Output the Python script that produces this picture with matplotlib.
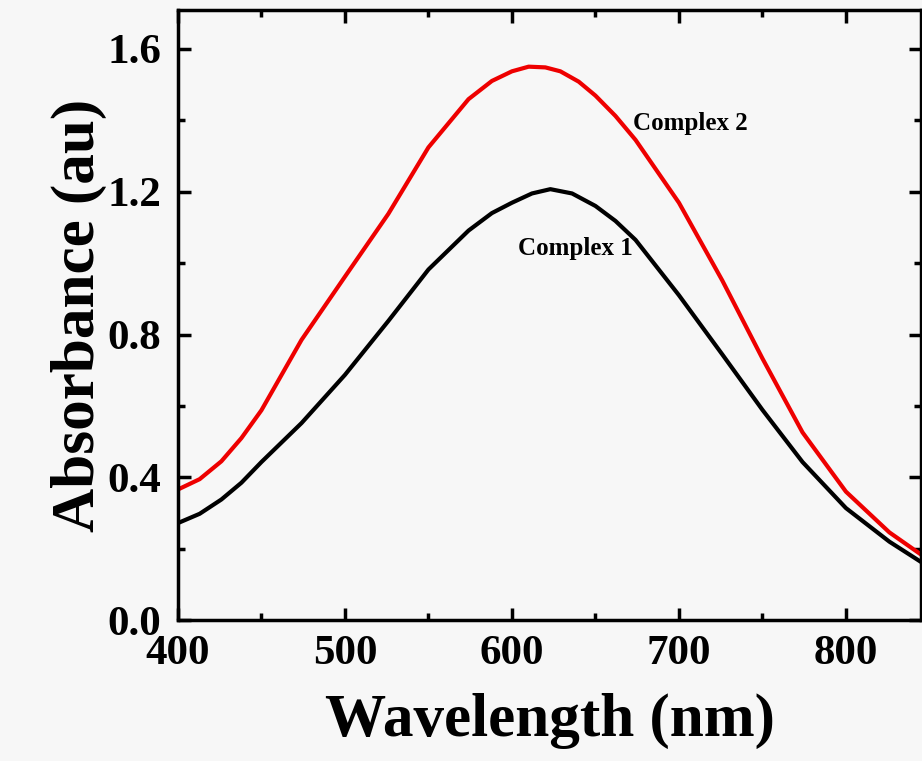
import matplotlib
matplotlib.use("Agg")
import matplotlib.pyplot as plt
from matplotlib.ticker import MultipleLocator

wavelength = [400, 413, 426, 438, 450, 474, 500, 526, 550, 574, 588, 600, 612, 623,
              636, 650, 662, 674, 700, 726, 750, 774, 800, 826, 848]
complex1 = [0.272, 0.298, 0.338, 0.385, 0.443, 0.552, 0.687, 0.838, 0.982, 1.091,
            1.140, 1.169, 1.195, 1.207, 1.195, 1.160, 1.118, 1.065, 0.910, 0.744,
            0.589, 0.443, 0.314, 0.220, 0.154]

wavelength2 = [400, 413, 426, 438, 450, 474, 500, 526, 550, 574, 588, 600, 610, 620,
               629, 640, 650, 662, 674, 700, 726, 750, 774, 800, 826, 848]
complex2 = [0.366, 0.395, 0.445, 0.510, 0.588, 0.785, 0.962, 1.138, 1.324, 1.459,
            1.510, 1.537, 1.550, 1.548, 1.537, 1.508, 1.469, 1.412, 1.345, 1.169,
            0.951, 0.733, 0.526, 0.360, 0.246, 0.174]

plt.rcParams['font.family'] = ['Liberation Serif', 'DejaVu Serif']
plt.rcParams['font.weight'] = 'bold'

fig = plt.figure(figsize=(9.22, 7.61), dpi=100)
fig.patch.set_facecolor('#f7f7f7')
ax = fig.add_axes([0.193, 0.185, 0.806, 0.802])
ax.set_facecolor('#f7f7f7')

ax.plot(wavelength, complex1, color='black', lw=3)
ax.plot(wavelength2, complex2, color='#ee0000', lw=3)
ax.text(707, 1.39, 'Complex 2', fontsize=18, fontweight='bold', ha='center', va='center')
ax.text(638, 1.04, 'Complex 1', fontsize=18, fontweight='bold', ha='center', va='center')

ax.set_xlim(400, 845)
ax.set_ylim(0, 1.709)
ax.xaxis.set_major_locator(MultipleLocator(100))
ax.xaxis.set_minor_locator(MultipleLocator(50))
ax.yaxis.set_major_locator(MultipleLocator(0.4))
ax.yaxis.set_minor_locator(MultipleLocator(0.2))
ax.yaxis.set_major_formatter(lambda v, p: f"{v:.1f}")
ax.tick_params(which='both', direction='in', top=True, right=True, width=2.5, labelsize=31)
ax.tick_params(axis='x', pad=11)
ax.tick_params(axis='y', pad=12)
ax.tick_params(which='major', length=9)
ax.tick_params(which='minor', length=5)
for s in ax.spines.values():
    s.set_linewidth(2.5)

ax.set_xlabel('Wavelength (nm)', fontsize=44, fontweight='bold', labelpad=14)
ax.set_ylabel('Absorbance (au)', fontsize=44, fontweight='bold', labelpad=0)

fig.savefig('out.png', dpi=100, facecolor=fig.get_facecolor())
